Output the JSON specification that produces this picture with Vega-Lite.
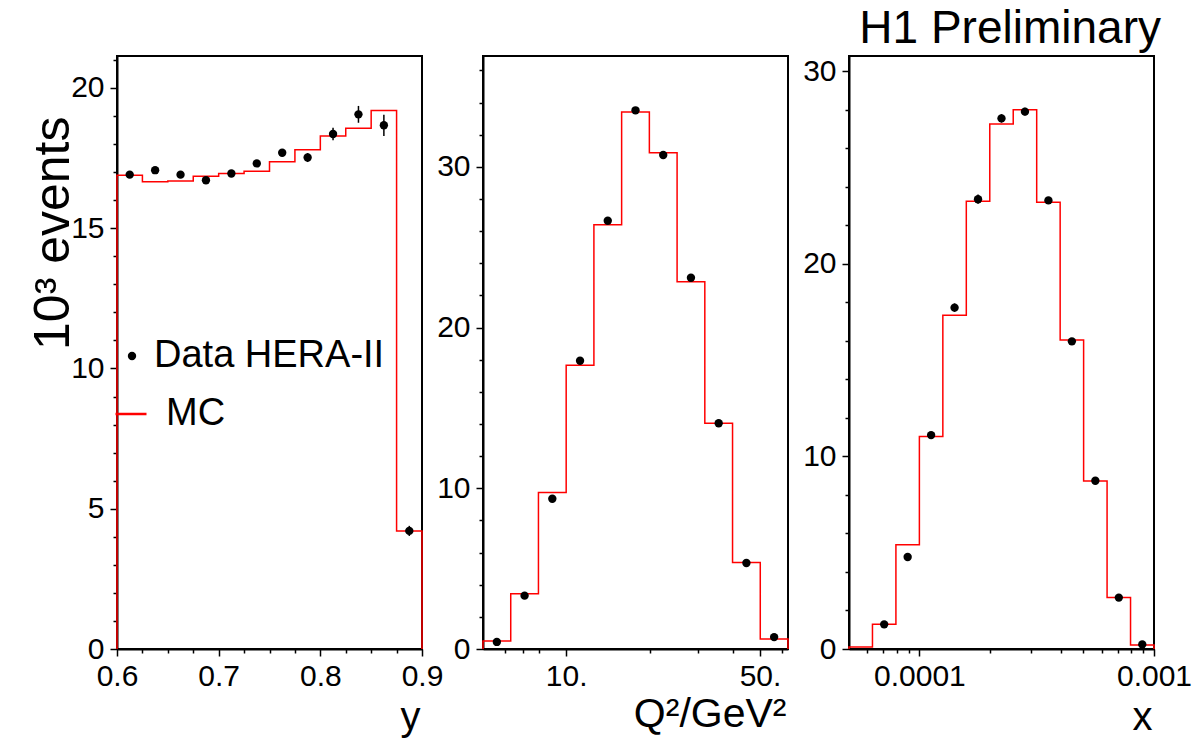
{
  "$schema": "https://vega.github.io/schema/vega-lite/v6.json",
  "padding": {"left": 27, "top": 5, "right": 5, "bottom": 5},
  "background": "white",
  "spacing": 61,
  "bounds": "flush",
  "config": {
    "font": "Liberation Sans",
    "view": {"stroke": "black", "strokeWidth": 2},
    "axis": {
      "grid": false, "domainColor": "black", "domainWidth": 2, "tickColor": "black", "tickWidth": 1.5,
      "labelColor": "black", "titleColor": "black", "titleFontWeight": "normal", "labelFontSize": 30,
      "labelOverlap": false, "labelBound": false, "labelFlush": false, "labelFont": "Liberation Sans", "titleFont": "Liberation Sans",
      "tickCount": 200
    },
    "legend": {"labelFont": "Liberation Sans", "labelColor": "black", "labelLimit": 500}
  },
  "datasets": {
    "mc_y": [
      {"y": 0.6, "n": 0}, {"y": 0.6, "n": 16.89}, {"y": 0.625, "n": 16.66}, {"y": 0.65, "n": 16.68},
      {"y": 0.675, "n": 16.85}, {"y": 0.7, "n": 16.95}, {"y": 0.725, "n": 17.03}, {"y": 0.75, "n": 17.37},
      {"y": 0.775, "n": 17.8}, {"y": 0.8, "n": 18.29}, {"y": 0.825, "n": 18.56}, {"y": 0.85, "n": 19.2},
      {"y": 0.875, "n": 4.21}, {"y": 0.9, "n": 4.21}, {"y": 0.9, "n": 0}
    ],
    "data_y": [
      {"y": 0.6125, "n": 16.91, "e": 0.08}, {"y": 0.6375, "n": 17.07, "e": 0.08}, {"y": 0.6625, "n": 16.91, "e": 0.08},
      {"y": 0.6875, "n": 16.71, "e": 0.08}, {"y": 0.7125, "n": 16.95, "e": 0.09}, {"y": 0.7375, "n": 17.31, "e": 0.1},
      {"y": 0.7625, "n": 17.69, "e": 0.12}, {"y": 0.7875, "n": 17.52, "e": 0.16}, {"y": 0.8125, "n": 18.36, "e": 0.22},
      {"y": 0.8375, "n": 19.06, "e": 0.3}, {"y": 0.8625, "n": 18.67, "e": 0.38}, {"y": 0.8875, "n": 4.21, "e": 0.18}
    ],
    "mc_q": [
      {"q2": 5.012, "n": 0}, {"q2": 5.012, "n": 0.5}, {"q2": 6.31, "n": 3.44}, {"q2": 7.943, "n": 9.74},
      {"q2": 10, "n": 17.65}, {"q2": 12.589, "n": 26.4}, {"q2": 15.849, "n": 33.42}, {"q2": 19.953, "n": 30.88},
      {"q2": 25.119, "n": 22.86}, {"q2": 31.623, "n": 14.05}, {"q2": 39.811, "n": 5.39}, {"q2": 50.119, "n": 0.62},
      {"q2": 63.096, "n": 0.62}, {"q2": 63.096, "n": 0}
    ],
    "data_q": [
      {"q2": 5.623, "n": 0.44, "e": 0.05}, {"q2": 7.079, "n": 3.32, "e": 0.08}, {"q2": 8.913, "n": 9.35, "e": 0.1},
      {"q2": 11.22, "n": 17.94, "e": 0.13}, {"q2": 14.125, "n": 26.65, "e": 0.16}, {"q2": 17.783, "n": 33.52, "e": 0.18},
      {"q2": 22.387, "n": 30.74, "e": 0.18}, {"q2": 28.184, "n": 23.1, "e": 0.15}, {"q2": 35.481, "n": 14.05, "e": 0.12},
      {"q2": 44.668, "n": 5.35, "e": 0.08}, {"q2": 56.234, "n": 0.74, "e": 0.04}
    ],
    "mc_x": [
      {"x": 0.00005012, "n": 0}, {"x": 0.00005012, "n": 0.1}, {"x": 0.0000631, "n": 1.28}, {"x": 0.00007943, "n": 5.41},
      {"x": 0.0001, "n": 11.04}, {"x": 0.00012589, "n": 17.33}, {"x": 0.00015849, "n": 23.26}, {"x": 0.00019953, "n": 27.27},
      {"x": 0.00025119, "n": 28.01}, {"x": 0.00031623, "n": 23.21}, {"x": 0.00039811, "n": 16.05}, {"x": 0.00050119, "n": 8.72},
      {"x": 0.00063096, "n": 2.67}, {"x": 0.00079433, "n": 0.21}, {"x": 0.001, "n": 0.21}, {"x": 0.001, "n": 0}
    ],
    "data_x": [
      {"x": 0.00007079, "n": 1.28, "e": 0.08}, {"x": 0.00008913, "n": 4.78, "e": 0.12}, {"x": 0.0001122, "n": 11.11, "e": 0.18},
      {"x": 0.00014125, "n": 17.73, "e": 0.22}, {"x": 0.00017783, "n": 23.36, "e": 0.24}, {"x": 0.00022387, "n": 27.56, "e": 0.22},
      {"x": 0.00028184, "n": 27.91, "e": 0.2}, {"x": 0.00035481, "n": 23.3, "e": 0.17}, {"x": 0.00044668, "n": 15.98, "e": 0.14},
      {"x": 0.00056234, "n": 8.74, "e": 0.1}, {"x": 0.00070795, "n": 2.67, "e": 0.06}, {"x": 0.00089125, "n": 0.24, "e": 0.03}
    ]
  },
  "hconcat": [
    {
      "width": 305, "height": 593,
      "layer": [
        {
          "data": {"name": "mc_y"},
          "mark": {"type": "line", "interpolate": "step-after", "strokeWidth": 1.5},
          "encoding": {
            "x": {"field": "y", "type": "quantitative", "title": "y", "scale": {"domain": [0.6, 0.9], "nice": false, "zero": false},
              "axis": {"title": "y", "titleFontSize": 40, "titleAlign": "right", "titleBaseline": "alphabetic", "titleX": 303, "titleY": 80,
                "labelOverlap": false, "tickCount": 200,
                "values": [0.6, 0.625, 0.65, 0.675, 0.7, 0.725, 0.75, 0.775, 0.8, 0.825, 0.85, 0.875, 0.9],
                "labelExpr": "abs(datum.value*10 - round(datum.value*10)) < 0.001 ? format(datum.value, '.1f') : ''",
                "labelFontSize": {"condition": {"test": "abs(datum.value*10 - round(datum.value*10)) < 0.001", "value": 30}, "value": 0},
                "tickSize": {"condition": {"test": "abs(datum.value*10 - round(datum.value*10)) < 0.001", "value": 7}, "value": 4},
                "labelPadding": 5}},
            "y": {"field": "n", "type": "quantitative", "title": "10³ events", "scale": {"domain": [0, 21.14], "nice": false},
              "axis": {"title": "10³ events", "titleFontSize": 50, "titleAngle": 270, "titleAlign": "right", "titleBaseline": "alphabetic", "titleX": -49, "titleY": 60,
                "labelOverlap": false, "tickCount": 200,
                "values": [0, 1, 2, 3, 4, 5, 6, 7, 8, 9, 10, 11, 12, 13, 14, 15, 16, 17, 18, 19, 20, 21],
                "labelExpr": "datum.value % 5 == 0 ? format(datum.value, 'd') : ''",
                "labelFontSize": {"condition": {"test": "datum.value % 5 == 0", "value": 30}, "value": 0},
                "tickSize": {"condition": {"test": "datum.value % 5 == 0", "value": 7}, "value": 4},
                "labelPadding": 6}},
            "order": {"value": null},
            "stroke": {"datum": "MC", "type": "nominal", "scale": {"domain": ["MC"], "range": ["#ff0000"]},
              "legend": {"orient": "none", "legendX": -5, "legendY": 339, "title": null, "symbolType": "stroke", "symbolSize": 961,
                "symbolStrokeWidth": 2.5, "labelFontSize": 38, "labelOffset": 16, "padding": 0}}
          }
        },
        {
          "data": {"name": "data_y"},
          "mark": {"type": "errorbar", "color": "black", "thickness": 1.5},
          "encoding": {
            "x": {"field": "y", "type": "quantitative", "title": "y"},
            "y": {"field": "n", "type": "quantitative", "title": "10³ events"},
            "yError": {"field": "e"}
          }
        },
        {
          "data": {"name": "data_y"},
          "mark": {"type": "point", "filled": true, "size": 70, "opacity": 1},
          "encoding": {
            "x": {"field": "y", "type": "quantitative", "title": "y"},
            "y": {"field": "n", "type": "quantitative", "title": "10³ events"},
            "fill": {"datum": "Data HERA-II", "type": "nominal", "scale": {"domain": ["Data HERA-II"], "range": ["black"]},
              "legend": {"orient": "none", "legendX": -4, "legendY": 281, "title": null, "symbolType": "circle", "symbolSize": 70,
                "symbolStrokeWidth": 0, "labelFontSize": 38, "labelOffset": 3, "padding": 0}}
          }
        }
      ]
    },
    {
      "width": 305, "height": 593,
      "layer": [
        {
          "data": {"name": "mc_q"},
          "mark": {"type": "line", "interpolate": "step-after", "strokeWidth": 1.5, "color": "#ff0000"},
          "encoding": {
            "x": {"field": "q2", "type": "quantitative", "title": "Q²/GeV²", "scale": {"type": "log", "domain": [5.012, 63.096], "nice": false},
              "axis": {"title": "Q²/GeV²", "titleFontSize": 41, "titleAlign": "right", "titleBaseline": "alphabetic", "titleX": 303, "titleY": 77,
                "labelOverlap": false, "tickCount": 200,
                "values": [6, 7, 8, 10, 20, 30, 40, 50, 60],
                "labelExpr": "datum.value == 10 ? '10.' : (datum.value == 50 ? '50.' : '')",
                "labelFontSize": {"condition": {"test": "datum.value == 10 || datum.value == 50", "value": 30}, "value": 0},
                "tickSize": {"condition": {"test": "datum.value == 10 || datum.value == 50", "value": 7}, "value": 4},
                "labelPadding": 5}},
            "y": {"field": "n", "type": "quantitative", "title": null, "scale": {"domain": [0, 36.9], "nice": false},
              "axis": {"title": null,
                "labelOverlap": false, "tickCount": 200,
                "values": [0, 2, 4, 6, 8, 10, 12, 14, 16, 18, 20, 22, 24, 26, 28, 30, 32, 34, 36],
                "labelExpr": "datum.value % 10 == 0 ? format(datum.value, 'd') : ''",
                "labelFontSize": {"condition": {"test": "datum.value % 10 == 0", "value": 30}, "value": 0},
                "tickSize": {"condition": {"test": "datum.value % 10 == 0", "value": 7}, "value": 4},
                "labelPadding": 6}},
            "order": {"value": null}
          }
        },
        {
          "data": {"name": "data_q"},
          "mark": {"type": "errorbar", "color": "black", "thickness": 1.5},
          "encoding": {
            "x": {"field": "q2", "type": "quantitative", "title": "Q²/GeV²"},
            "y": {"field": "n", "type": "quantitative", "title": null},
            "yError": {"field": "e"}
          }
        },
        {
          "data": {"name": "data_q"},
          "mark": {"type": "point", "filled": true, "size": 70, "opacity": 1, "color": "black"},
          "encoding": {
            "x": {"field": "q2", "type": "quantitative", "title": "Q²/GeV²"},
            "y": {"field": "n", "type": "quantitative", "title": null}
          }
        }
      ]
    },
    {
      "width": 305, "height": 593,
      "title": {"text": "H1 Preliminary", "anchor": "end", "frame": "group", "fontSize": 46, "fontWeight": "normal", "baseline": "alphabetic", "offset": -33, "dx": 7, "color": "black", "font": "Liberation Sans"},
      "layer": [
        {
          "data": {"name": "mc_x"},
          "mark": {"type": "line", "interpolate": "step-after", "strokeWidth": 1.5, "color": "#ff0000"},
          "encoding": {
            "x": {"field": "x", "type": "quantitative", "title": "x", "scale": {"type": "log", "domain": [0.00005012, 0.001], "nice": false},
              "axis": {"title": "x", "titleFontSize": 40, "titleAlign": "right", "titleBaseline": "alphabetic", "titleX": 303, "titleY": 80,
                "labelOverlap": false, "tickCount": 200,
                "values": [0.00006, 0.00007, 0.00008, 0.00009, 0.0001, 0.0002, 0.0003, 0.0004, 0.0005, 0.0006, 0.0007, 0.0008, 0.0009, 0.001],
                "labelExpr": "datum.value == 0.0001 ? '0.0001' : (datum.value == 0.001 ? '0.001' : '')",
                "labelFontSize": {"condition": {"test": "datum.value == 0.0001 || datum.value == 0.001", "value": 30}, "value": 0},
                "tickSize": {"condition": {"test": "datum.value == 0.0001 || datum.value == 0.001", "value": 7}, "value": 4},
                "labelPadding": 5}},
            "y": {"field": "n", "type": "quantitative", "title": null, "scale": {"domain": [0, 30.8], "nice": false},
              "axis": {"title": null,
                "labelOverlap": false, "tickCount": 200,
                "values": [0, 2, 4, 6, 8, 10, 12, 14, 16, 18, 20, 22, 24, 26, 28, 30],
                "labelExpr": "datum.value % 10 == 0 ? format(datum.value, 'd') : ''",
                "labelFontSize": {"condition": {"test": "datum.value % 10 == 0", "value": 30}, "value": 0},
                "tickSize": {"condition": {"test": "datum.value % 10 == 0", "value": 7}, "value": 4},
                "labelPadding": 6}},
            "order": {"value": null}
          }
        },
        {
          "data": {"name": "data_x"},
          "mark": {"type": "errorbar", "color": "black", "thickness": 1.5},
          "encoding": {
            "x": {"field": "x", "type": "quantitative", "title": "x"},
            "y": {"field": "n", "type": "quantitative", "title": null},
            "yError": {"field": "e"}
          }
        },
        {
          "data": {"name": "data_x"},
          "mark": {"type": "point", "filled": true, "size": 70, "opacity": 1, "color": "black"},
          "encoding": {
            "x": {"field": "x", "type": "quantitative", "title": "x"},
            "y": {"field": "n", "type": "quantitative", "title": null}
          }
        }
      ]
    }
  ]
}
